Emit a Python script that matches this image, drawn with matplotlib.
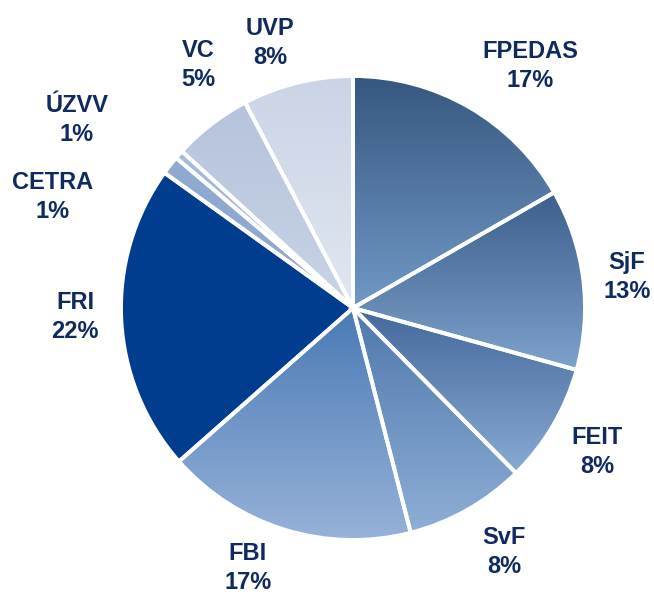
import matplotlib.pyplot as plt
import numpy as np
from matplotlib.colors import LinearSegmentedColormap

labels = ['FPEDAS', 'SjF', 'FEIT', 'SvF', 'FBI', 'FRI', 'CETRA', 'ÚZVV', 'VC', 'UVP']
shares = [16.7, 12.6, 8.3, 8.4, 17.5, 21.4, 1.3, 0.6, 5.5, 7.7]
pct_labels = ['17%', '13%', '8%', '8%', '17%', '22%', '1%', '1%', '5%', '8%']

# gradient colours per slice (top, bottom)
top_colors = ['#36577f', '#3c5f8c', '#44689c', '#5078ad', '#4a7ab5',
              '#003d8f', '#8fa9d1', '#a5b9da', '#b5c3dc', '#cad4e6']
bottom_colors = ['#7199c6', '#7ea2cb', '#88aad2', '#8eaed5', '#97b2d8',
                 '#003d8f', '#8fa9d1', '#a5b9da', '#c8d3e6', '#e1e7f1']

# label positions (data units, pie radius = 1)
label_xy = [(0.763, 1.043), (1.18, 0.134), (1.052, -0.621), (0.651, -1.052),
            (-0.453, -1.121), (-1.198, -0.039), (-1.297, 0.478), (-1.190, 0.810),
            (-0.668, 1.047), (-0.358, 1.142)]

fig = plt.figure(figsize=(6.54, 5.95), dpi=100)
ax = fig.add_axes([0, 0, 1, 1])

wedges, _ = ax.pie(shares, startangle=90, counterclock=False, radius=1,
                   colors=bottom_colors, wedgeprops=dict(linewidth=0))

grad = np.linspace(0, 1, 256).reshape(-1, 1)
for w, c0, c1 in zip(wedges, top_colors, bottom_colors):
    bb = w.get_path().get_extents()
    cmap = LinearSegmentedColormap.from_list('g', [c0, c1])
    im = ax.imshow(grad, cmap=cmap, extent=[bb.x0, bb.x1, bb.y0, bb.y1],
                   origin='upper', aspect='auto', interpolation='bicubic',
                   zorder=w.get_zorder() + 0.5)
    im.set_clip_path(w)

# white separators on top
ax.pie(shares, startangle=90, counterclock=False, radius=1,
       wedgeprops=dict(facecolor='none', edgecolor='white', linewidth=2.8, zorder=5))

for (x, y), name, pct in zip(label_xy, labels, pct_labels):
    ax.text(x, y, f'{name}\n{pct}', ha='center', va='center', fontsize=17,
            fontweight='bold', color='#0f2a5f', family='Liberation Sans',
            linespacing=1.3)

ax.set_xlim((0 - 353) / 232, (654 - 353) / 232)
ax.set_ylim((308 - 595) / 232, 308 / 232)
ax.set_aspect('auto')
ax.axis('off')

fig.savefig('out.png', dpi=100)
